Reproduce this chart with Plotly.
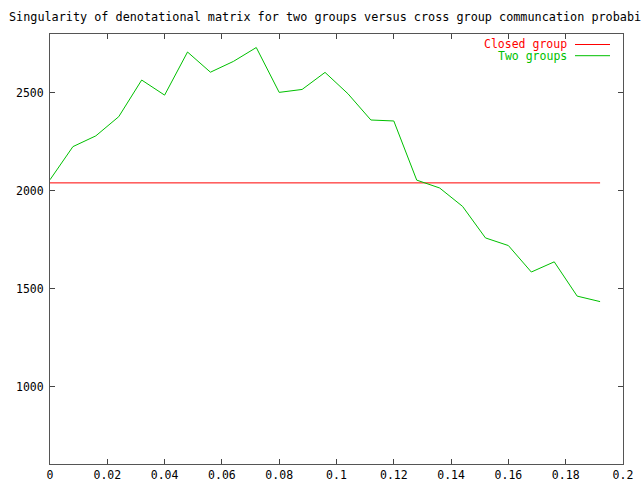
import plotly.graph_objects as go

x_vals = [0.000, 0.008, 0.016, 0.024, 0.032, 0.040, 0.048, 0.056, 0.064, 0.072,
          0.080, 0.088, 0.096, 0.104, 0.112, 0.120, 0.128, 0.136, 0.144, 0.152,
          0.160, 0.168, 0.176, 0.184, 0.192]
two_groups = [2056, 2225, 2280, 2378, 2565, 2488, 2708, 2605, 2660, 2731,
              2502, 2517, 2604, 2495, 2361, 2356, 2054, 2014, 1920, 1759,
              1720, 1585, 1637, 1462, 1434]
closed_x = [0.0, 0.192]
closed_group = [2040, 2040]
x_ticks = [0, 0.02, 0.04, 0.06, 0.08, 0.1, 0.12, 0.14, 0.16, 0.18, 0.2]
x_tick_labels = ["0", "0.02", "0.04", "0.06", "0.08", "0.1", "0.12", "0.14", "0.16", "0.18", "0.2"]
y_ticks = [1000, 1500, 2000, 2500]
series_names = ["Closed group", "Two groups"]
series_colors = ["#ff0000", "#00c000"]
title_text = "Singularity of denotational matrix for two groups versus cross group communcation probability"

FONT = "DejaVu Sans Mono"
fs = 11.5

L, R, T, B = 50, 623, 34, 464
PW, PH = R - L, B - T

fig = go.Figure()
fig.add_trace(go.Scatter(x=closed_x, y=closed_group, mode="lines",
                         line=dict(color=series_colors[0], width=1), name=series_names[0]))
fig.add_trace(go.Scatter(x=x_vals, y=two_groups, mode="lines",
                         line=dict(color=series_colors[1], width=1), name=series_names[1]))

axis_common = dict(showgrid=False, zeroline=False, showline=True, linecolor="#555555",
                   linewidth=1, mirror="ticks", ticks="inside", ticklen=5, tickcolor="#444444",
                   automargin=False,
                   tickfont=dict(family=FONT, size=fs, color="#000000"))

fig.update_xaxes(range=[0, 0.2], tickvals=x_ticks, ticktext=x_tick_labels, **axis_common)
fig.update_yaxes(range=[605, 2800], tickvals=y_ticks, ticklabelstandoff=3, **axis_common)

# legend (gnuplot style: text then sample line)
rows_px = [44.5, 55.7]
for i, (name, col) in enumerate(zip(series_names, series_colors)):
    yy = 1 - (rows_px[i] - T) / PH
    fig.add_annotation(xref="paper", yref="paper", x=(568 - L) / PW, y=yy,
                       text=name, showarrow=False, xanchor="right", yanchor="middle",
                       borderpad=0,
                       font=dict(family=FONT, size=fs, color=col))
    fig.add_shape(type="line", xref="paper", yref="paper",
                  x0=(575 - L) / PW, x1=(610 - L) / PW, y0=yy, y1=yy,
                  line=dict(color=col, width=1))

fig.add_annotation(xref="paper", yref="paper", x=(7 - L) / PW, y=1 + (T - 17) / PH,
                   text=title_text, showarrow=False, xanchor="left", yanchor="middle",
                   font=dict(family=FONT, size=11.8, color="#000000"))

fig.update_layout(
    width=641, height=485,
    margin=dict(l=L, r=641 - R, t=T, b=485 - B, autoexpand=False),
    paper_bgcolor="white", plot_bgcolor="white",
    showlegend=False,
)

fig.write_html("out.html", config={"displayModeBar": False},
               post_script="document.body.style.margin='0';document.body.style.overflow='hidden';")
